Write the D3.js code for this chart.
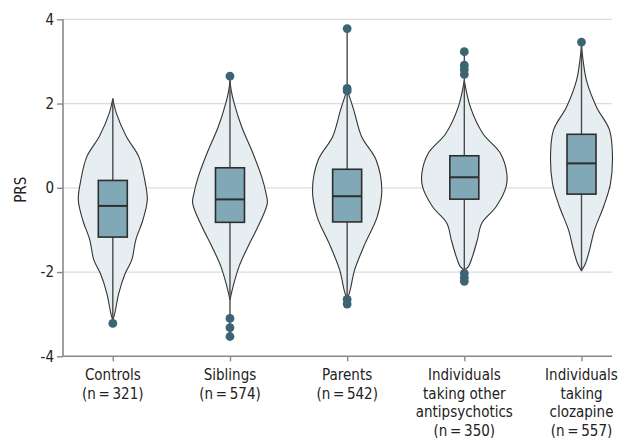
<!DOCTYPE html>
<html>
<head>
<meta charset="utf-8">
<script src="https://cdn.jsdelivr.net/npm/d3@7"></script>
<style>
  html, body { margin: 0; padding: 0; background: #fff; }
  svg { display: block; }
  text { font-family: "Liberation Sans Narrow", "DejaVu Sans Condensed", "Roboto", sans-serif; fill: #222; }
</style>
</head>
<body>
<svg id="chart" width="622" height="438"></svg>
<script>
// Groups and their sample sizes
const groups = ["Controls", "Siblings", "Parents", "Others", "Clozapine"];
const groupLabels = [
  ["Controls", "(n\u2009=\u2009321)"],
  ["Siblings", "(n\u2009=\u2009574)"],
  ["Parents", "(n\u2009=\u2009542)"],
  ["Individuals", "taking other", "antipsychotics", "(n\u2009=\u2009350)"],
  ["Individuals", "taking", "clozapine", "(n\u2009=\u2009557)"]
];

// Kernel density profiles: PRS value and estimated density at that value
const densityPRS = [
  [2.12, 1.76, 1.21, 0.74, 0.18, -0.29, -0.77, -1.24, -1.71, -2.03, -2.50, -2.98, -3.14],
  [2.55, 2.30, 2.00, 1.45, 0.82, 0.26, -0.13, -0.37, -0.92, -1.40, -1.87, -2.35, -2.66],
  [2.33, 1.84, 1.21, 0.66, -0.05, -0.69, -1.32, -1.95, -2.43, -2.66],
  [2.55, 1.92, 1.29, 0.82, 0.34, 0.02, -0.45, -0.84, -1.24, -1.64, -1.87, -1.95],
  [3.38, 3.00, 2.55, 1.92, 1.37, 0.74, 0.10, -0.45, -1.00, -1.48, -1.79, -1.97]
];
const densityValues = [
  [0, 0.043, 0.159, 0.302, 0.372, 0.401, 0.349, 0.267, 0.221, 0.145, 0.070, 0.023, 0],
  [0, 0.015, 0.050, 0.136, 0.267, 0.369, 0.419, 0.434, 0.326, 0.209, 0.105, 0.035, 0],
  [0, 0.078, 0.169, 0.337, 0.403, 0.349, 0.209, 0.087, 0.035, 0],
  [0, 0.070, 0.215, 0.419, 0.494, 0.485, 0.369, 0.203, 0.151, 0.093, 0.047, 0],
  [0, 0.020, 0.058, 0.174, 0.326, 0.360, 0.337, 0.256, 0.151, 0.093, 0.047, 0]
];

// Box plot summaries
const q1 = [-1.17, -0.82, -0.81, -0.27, -0.15];
const medians = [-0.43, -0.275, -0.20, 0.25, 0.58];
const q3 = [0.175, 0.475, 0.44, 0.76, 1.27];
const whiskerLow = [-3.22, -3.53, -2.76, -2.22, -1.97];
const whiskerHigh = [2.12, 2.65, 3.78, 3.23, 3.46];

// Outlying observations
const outliers = [
  [-3.22],
  [2.65, -3.10, -3.32, -3.53],
  [3.78, 2.36, 2.30, -2.65, -2.76],
  [3.23, 2.91, 2.81, 2.69, -2.03, -2.13, -2.22],
  [3.46]
];

// Axis ticks
const yTicks = [-4, -2, 0, 2, 4];
const yTickLabels = ["-4", "-2", "0", "2", "4"];

const svg = d3.select("#chart");
const plot = { left: 63, right: 612, top: 19.3, bottom: 356.3 };

const y = d3.scaleLinear().domain([-4, 4]).range([plot.bottom, plot.top]);
const x = d3.scalePoint().domain(groups).range([112.8, 581.5]);
const w = d3.scaleLinear().domain([0, 0.5]).range([0, 43]);

// Gridlines
svg.append("g")
  .selectAll("line")
  .data(yTicks.filter(t => t !== -4))
  .join("line")
  .attr("x1", plot.left).attr("x2", plot.right)
  .attr("y1", d => y(d)).attr("y2", d => y(d))
  .attr("stroke", "#dcdcdc").attr("stroke-width", 1.2);

// Y axis
const yAxis = svg.append("g")
  .attr("transform", `translate(${plot.left},0)`)
  .call(d3.axisLeft(y).tickValues(yTicks).tickFormat((d, i) => yTickLabels[i]).tickSize(6).tickPadding(3));
yAxis.select(".domain").attr("stroke", "#888").attr("stroke-width", 1.6).attr("d", `M0,${plot.top}V${plot.bottom}`);
yAxis.selectAll(".tick line").attr("stroke", "#888").attr("stroke-width", 1.4);
yAxis.selectAll(".tick text").style("font-size", "15px").attr("fill", "#222");

// X axis
const xAxis = svg.append("g")
  .attr("transform", `translate(0,${plot.bottom})`)
  .call(d3.axisBottom(x).tickSize(5).tickFormat(""));
xAxis.select(".domain").attr("stroke", "#888").attr("stroke-width", 1.6).attr("d", `M${plot.left},0H${plot.right}`);
xAxis.selectAll(".tick line").attr("stroke", "#888").attr("stroke-width", 1.4);

// Category labels
groups.forEach((g, i) => {
  const t = svg.append("text")
    .attr("x", x(g))
    .attr("y", 380)
    .attr("text-anchor", "middle")
    .style("font-size", "15px");
  groupLabels[i].forEach((line, j) => {
    t.append("tspan").attr("x", x(g)).attr("dy", j === 0 ? 0 : 18.5).text(line);
  });
});

// Y title
svg.append("text")
  .attr("transform", `translate(26,${y(0) + 2}) rotate(-90)`)
  .attr("text-anchor", "middle")
  .style("font-size", "15px")
  .text("PRS");

// Violins, whiskers, boxes, outliers
const boxWidth = 29;
groups.forEach((g, i) => {
  const cx = x(g);
  const pts = densityPRS[i].map((v, j) => [v, densityValues[i][j]]);
  const area = d3.area()
    .y(d => y(d[0]))
    .x0(d => cx - w(d[1]))
    .x1(d => cx + w(d[1]))
    .curve(d3.curveCatmullRom.alpha(0.5));

  const layer = svg.append("g");
  layer.append("path")
    .attr("d", area(pts))
    .attr("fill", "#e6eef2")
    .attr("stroke", "#333")
    .attr("stroke-width", 1.1);

  layer.append("line")
    .attr("x1", cx).attr("x2", cx)
    .attr("y1", y(whiskerLow[i])).attr("y2", y(whiskerHigh[i]))
    .attr("stroke", "#4a4a4a").attr("stroke-width", 1.4);

  layer.append("rect")
    .attr("x", cx - boxWidth / 2)
    .attr("y", y(q3[i]))
    .attr("width", boxWidth)
    .attr("height", y(q1[i]) - y(q3[i]))
    .attr("fill", "#80a8b6")
    .attr("stroke", "#2e2e2e")
    .attr("stroke-width", 1.6);

  layer.append("line")
    .attr("x1", cx - boxWidth / 2).attr("x2", cx + boxWidth / 2)
    .attr("y1", y(medians[i])).attr("y2", y(medians[i]))
    .attr("stroke", "#2e2e2e").attr("stroke-width", 2);

  layer.selectAll("circle")
    .data(outliers[i])
    .join("circle")
    .attr("cx", cx)
    .attr("cy", d => y(d))
    .attr("r", 4.4)
    .attr("fill", "#3c6473");
});
</script>
</body>
</html>
